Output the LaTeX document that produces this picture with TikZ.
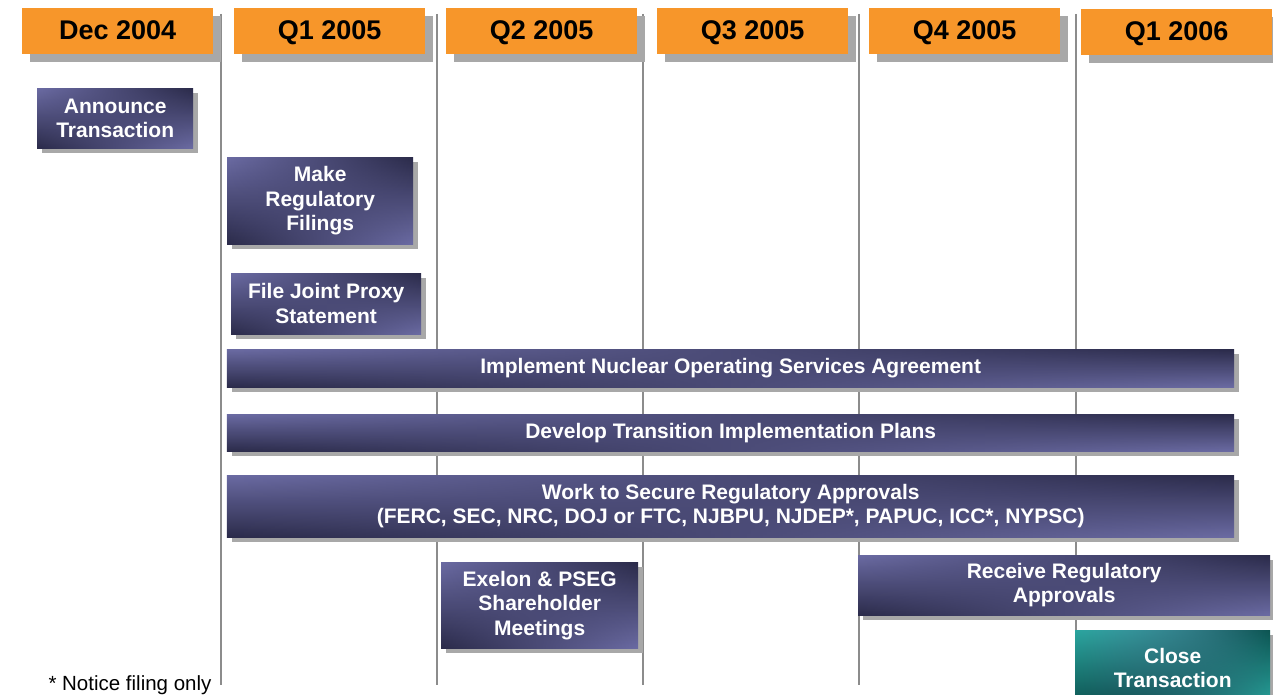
\documentclass[tikz,border=0pt]{standalone}
\usepackage{fontspec}
\setmainfont{Liberation Sans}
\usetikzlibrary{shadows,fadings}
\definecolor{boxlight}{HTML}{6B6BA3}
\definecolor{boxdark}{HTML}{2B2B4A}
\definecolor{teallight}{HTML}{2AA59E}
\definecolor{tealdark}{HTML}{0C5552}
\definecolor{hdr}{HTML}{F7962A}
\definecolor{shadowgray}{HTML}{A8A8A8}
\definecolor{gridgray}{HTML}{8C8C8C}
\begin{document}
\begin{tikzpicture}[x=1pt,y=-1pt,
  gridline/.style={draw=gridgray, line width=2pt},
  hdrbox/.style={anchor=north west, inner sep=0pt, fill=hdr,
    general shadow={fill=shadowgray, shadow xshift=8pt, shadow yshift=-8pt},
    minimum width=191pt, minimum height=46pt, text height=19pt, text depth=2pt,
    font=\bfseries\fontsize{27}{30}\selectfont},
  taskbox/.style={anchor=north west, inner sep=0pt, align=center, text=white,
    font=\bfseries\fontsize{21}{24.5}\selectfont,
    general shadow={fill=shadowgray, shadow xshift=5pt, shadow yshift=-5pt},
    top color=boxdark, bottom color=boxlight,
    postaction={shade, top color=boxlight, bottom color=boxdark, path fading=east}},
  tealbox/.style={taskbox, top color=tealdark, bottom color=teallight,
    postaction={shade, top color=teallight, bottom color=tealdark, path fading=east}},
  note/.style={anchor=base west, font=\fontsize{20.5}{24}\selectfont}
]
\useasboundingbox (0,0) rectangle (1273,695);

% grid lines
\coordinate (g1t) at (221,14);  \coordinate (g1b) at (221,685);
\coordinate (g2t) at (437,14);  \coordinate (g2b) at (437,685);
\coordinate (g3t) at (643,14);  \coordinate (g3b) at (643,685);
\coordinate (g4t) at (859,14);  \coordinate (g4b) at (859,685);
\coordinate (g5t) at (1076,14); \coordinate (g5b) at (1076,685);
\draw[gridline] (g1t) -- (g1b);
\draw[gridline] (g2t) -- (g2b);
\draw[gridline] (g3t) -- (g3b);
\draw[gridline] (g4t) -- (g4b);
\draw[gridline] (g5t) -- (g5b);

% headers
\node[hdrbox] (h0) at (22,8) {Dec 2004};
\node[hdrbox] (h1) at (234,8) {Q1 2005};
\node[hdrbox] (h2) at (446,8) {Q2 2005};
\node[hdrbox] (h3) at (657,8) {Q3 2005};
\node[hdrbox] (h4) at (869,8) {Q4 2005};
\node[hdrbox] (h5) at (1081,9) {Q1 2006};

% tasks
\node[taskbox, minimum width=156pt, minimum height=60pt] (ann) at (37,88) {Announce\\Transaction};
\node[taskbox, minimum width=186pt, minimum height=87pt] (mrf) at (227,157) {Make\\Regulatory\\Filings};
\node[taskbox, minimum width=190pt, minimum height=61pt] (fjp) at (231,273) {File Joint Proxy\\Statement};
\node[taskbox, minimum width=1007pt, minimum height=38pt] (ino) at (227,349) {Implement Nuclear Operating Services Agreement};
\node[taskbox, minimum width=1007pt, minimum height=37pt] (dtp) at (227,414) {Develop Transition Implementation Plans};
\node[taskbox, minimum width=1007pt, minimum height=62pt] (wts) at (227,475) {Work to Secure Regulatory Approvals\\(FERC, SEC, NRC, DOJ or FTC, NJBPU, NJDEP*, PAPUC, ICC*, NYPSC)};
\node[taskbox, minimum width=197pt, minimum height=86pt] (exe) at (441,562) {Exelon \& PSEG\\Shareholder\\Meetings};
\node[taskbox, minimum width=412pt, minimum height=60pt] (rra) at (858,555) {Receive Regulatory\\Approvals};
\node[tealbox, minimum width=195pt, minimum height=76pt] (clo) at (1075,630) {Close\\Transaction};

\node[note] (fn) at (45,690) {* Notice filing only};
\end{tikzpicture}
\end{document}
